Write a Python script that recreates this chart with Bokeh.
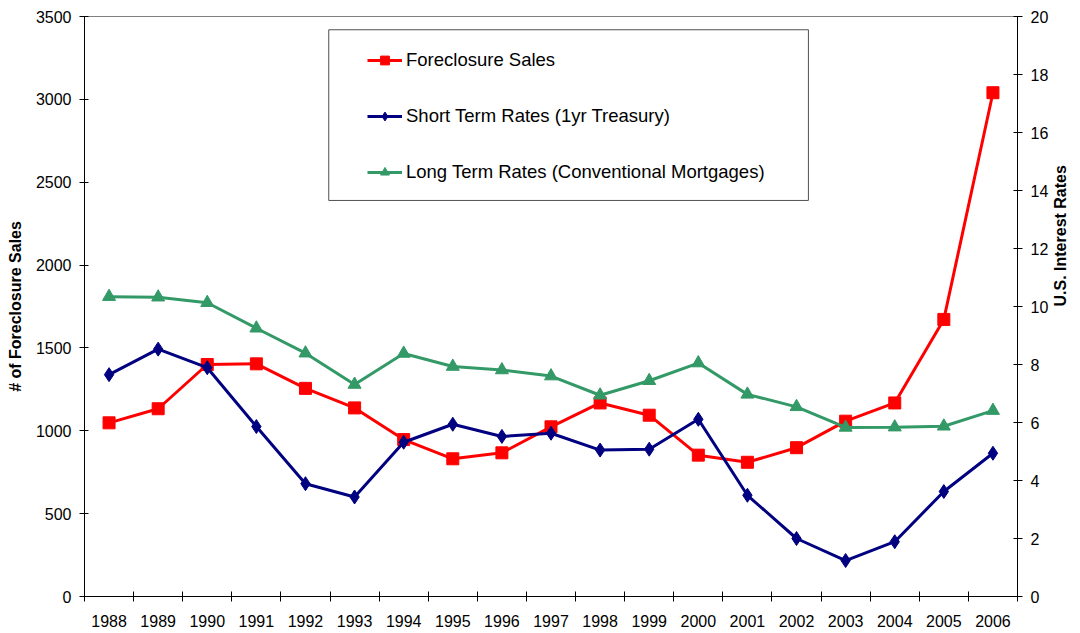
import math
from bokeh.plotting import figure
from bokeh.models import Range1d, LinearAxis, FixedTicker, Legend, LegendItem, BoxAnnotation
from bokeh.embed import file_html
from bokeh.resources import INLINE

years = [1988, 1989, 1990, 1991, 1992, 1993, 1994, 1995, 1996, 1997,
         1998, 1999, 2000, 2001, 2002, 2003, 2004, 2005, 2006]
foreclosure_sales = [1048, 1133, 1400, 1404, 1256, 1138, 947, 831, 867, 1024,
                     1168, 1094, 853, 810, 898, 1058, 1168, 1672, 3040]
short_term_rates = [7.65, 8.53, 7.89, 5.86, 3.89, 3.43, 5.32, 5.94, 5.52, 5.63,
                    5.05, 5.08, 6.11, 3.49, 2.00, 1.24, 1.89, 3.62, 4.94]
long_term_rates = [10.34, 10.32, 10.13, 9.25, 8.39, 7.31, 8.38, 7.93, 7.81, 7.60,
                   6.94, 7.44, 8.05, 6.97, 6.54, 5.83, 5.84, 5.87, 6.41]
sales_ticks = [0, 500, 1000, 1500, 2000, 2500, 3000, 3500]
rate_ticks = [0, 2, 4, 6, 8, 10, 12, 14, 16, 18, 20]

FONT = "Liberation Sans"

p = figure(width=1080, height=633, output_backend="svg", toolbar_location=None,
           x_range=Range1d(years[0] - 0.5, years[-1] + 0.5),
           y_range=Range1d(sales_ticks[0], sales_ticks[-1]),
           min_border_left=84, min_border_right=59, min_border_top=16, min_border_bottom=37)
p.extra_y_ranges = {"rate": Range1d(rate_ticks[0], rate_ticks[-1])}
p.xgrid.visible = False
p.ygrid.visible = False
p.outline_line_color = "#808080"
p.outline_line_width = 1
p.background_fill_color = "white"
p.border_fill_color = "white"

# x axis: labels at year centres, tick marks between categories
xa = p.xaxis[0]
xa.ticker = FixedTicker(ticks=years, minor_ticks=[y - 0.5 for y in years] + [years[-1] + 0.5])
xa.major_label_overrides = {y: str(y) for y in years}
xa.major_tick_in = 0
xa.major_tick_out = 0
xa.minor_tick_in = 5
xa.minor_tick_out = 5
xa.minor_tick_line_color = "black"
xa.major_label_standoff = 13

ya = p.yaxis[0]
ya.ticker = FixedTicker(ticks=sales_ticks)
ya.axis_label = "# of Foreclosure Sales"
ya.major_tick_in = 4
ya.major_tick_out = 5
ya.minor_tick_line_color = None
ya.major_label_standoff = 8
ya.axis_label_standoff = 9

ra = LinearAxis(y_range_name="rate", ticker=FixedTicker(ticks=rate_ticks),
                axis_label="U.S. Interest Rates")
ra.major_tick_in = 4
ra.major_tick_out = 5
ra.minor_tick_line_color = None
ra.major_label_standoff = 8
ra.axis_label_standoff = 9
ra.axis_label_orientation = math.pi / 2
p.add_layout(ra, "right")

for ax in (xa, ya, ra):
    ax.axis_line_color = "black"
    ax.axis_line_width = 1
    ax.major_tick_line_color = "black"
    ax.major_label_text_font = FONT
    ax.major_label_text_font_size = "16px"
    ax.major_label_text_color = "black"
    ax.axis_label_text_font = FONT
    ax.axis_label_text_font_size = "16px"
    ax.axis_label_text_font_style = "bold"
    ax.axis_label_text_color = "black"

RED = "#FF0000"
NAVY = "#000080"
GREEN = "#339966"

l1 = p.line(years, foreclosure_sales, line_color=RED, line_width=3)
s1 = p.scatter(years, foreclosure_sales, marker="square", size=12, fill_color=RED, line_color=RED)
l2 = p.line(years, short_term_rates, line_color=NAVY, line_width=3, y_range_name="rate")
s2 = p.scatter(years, short_term_rates, marker="diamond", size=14,
               fill_color=NAVY, line_color=NAVY, y_range_name="rate")
l3 = p.line(years, long_term_rates, line_color=GREEN, line_width=3, y_range_name="rate")
s3 = p.scatter(years, long_term_rates, marker="triangle", size=13, fill_color=GREEN,
               line_color=GREEN, y_range_name="rate")

legend = Legend(items=[
    LegendItem(label="Foreclosure Sales", renderers=[l1, s1]),
    LegendItem(label="Short Term Rates (1yr Treasury)", renderers=[l2, s2]),
    LegendItem(label="Long Term Rates (Conventional Mortgages)", renderers=[l3, s3]),
], location=(283, 413))
legend.margin = 0
legend.padding = 0
legend.border_line_color = None
legend.background_fill_alpha = 0
legend.glyph_width = 35
legend.glyph_height = 22
legend.label_height = 22
legend.spacing = 34
legend.label_standoff = 4
legend.label_text_font = FONT
legend.label_text_font_size = "18.5px"
legend.label_text_color = "black"
p.add_layout(legend)

# legend frame
box = BoxAnnotation(left=1992.474, right=2002.242, top=3420, bottom=2390,
                    fill_alpha=0, line_color="#505050", line_width=1, line_alpha=1)
p.add_layout(box)

open("out.html", "w").write(file_html(p, INLINE))
